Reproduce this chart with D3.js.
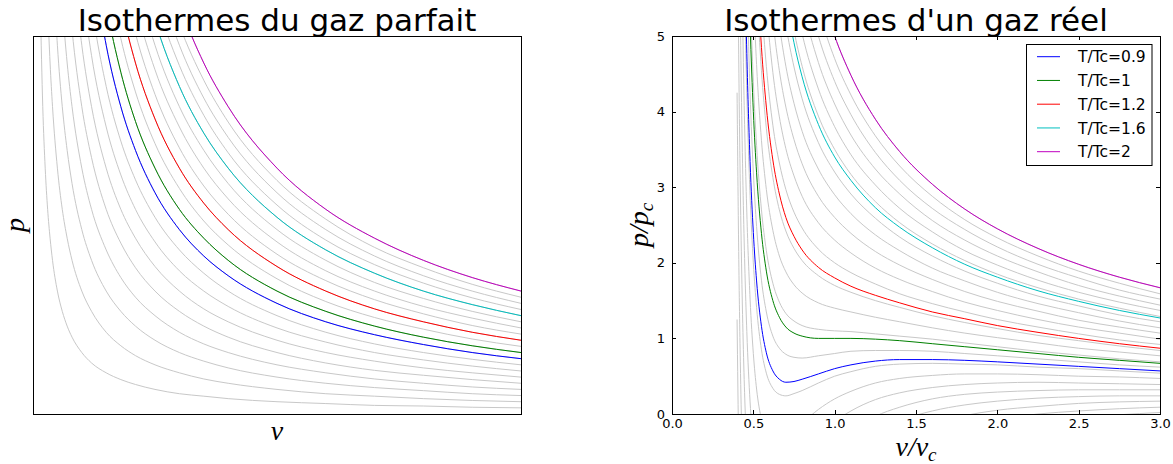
<!DOCTYPE html>
<html>
<head>
<meta charset="utf-8">
<script src="https://cdn.jsdelivr.net/npm/d3@7"></script>
<style>
  body { margin: 0; background: #fff; }
  svg { display: block; font-family: "DejaVu Sans", sans-serif; }
  .math { font-family: "Liberation Serif", serif; font-style: italic; }
</style>
</head>
<body>
<svg id="chart" width="1173" height="464"></svg>
<script>
// ---- left panel: ideal gas, p read at each v of the grid, one row per isotherm ----
const idealV = [0.015, 0.02, 0.025, 0.03, 0.035, 0.04, 0.05, 0.06, 0.07, 0.08, 0.1, 0.12, 0.15,
                0.18, 0.21, 0.25, 0.3, 0.35, 0.4, 0.5, 0.6, 0.7, 0.8, 0.9, 1.0];
const idealT = [0.1, 0.2, 0.3, 0.4, 0.5, 0.6, 0.7, 0.8, 0.9, 1, 1.1, 1.2, 1.3, 1.4, 1.5, 1.6, 1.7, 1.8, 1.9, 2];
const idealP = [
  [6.67, 5, 4, 3.33, 2.86, 2.5, 2, 1.67, 1.43, 1.25, 1, 0.83, 0.67, 0.56, 0.48, 0.4, 0.33, 0.29, 0.25, 0.2, 0.17, 0.14, 0.13, 0.11, 0.1],
  [null, 10, 8, 6.67, 5.71, 5, 4, 3.33, 2.86, 2.5, 2, 1.67, 1.33, 1.11, 0.95, 0.8, 0.67, 0.57, 0.5, 0.4, 0.33, 0.29, 0.25, 0.22, 0.2],
  [null, null, null, 10, 8.57, 7.5, 6, 5, 4.29, 3.75, 3, 2.5, 2, 1.67, 1.43, 1.2, 1, 0.86, 0.75, 0.6, 0.5, 0.43, 0.38, 0.33, 0.3],
  [null, null, null, null, null, 10, 8, 6.67, 5.71, 5, 4, 3.33, 2.67, 2.22, 1.9, 1.6, 1.33, 1.14, 1, 0.8, 0.67, 0.57, 0.5, 0.44, 0.4],
  [null, null, null, null, null, null, 10, 8.33, 7.14, 6.25, 5, 4.17, 3.33, 2.78, 2.38, 2, 1.67, 1.43, 1.25, 1, 0.83, 0.71, 0.63, 0.56, 0.5],
  [null, null, null, null, null, null, null, 10, 8.57, 7.5, 6, 5, 4, 3.33, 2.86, 2.4, 2, 1.71, 1.5, 1.2, 1, 0.86, 0.75, 0.67, 0.6],
  [null, null, null, null, null, null, null, null, 10, 8.75, 7, 5.83, 4.67, 3.89, 3.33, 2.8, 2.33, 2, 1.75, 1.4, 1.17, 1, 0.88, 0.78, 0.7],
  [null, null, null, null, null, null, null, null, null, 10, 8, 6.67, 5.33, 4.44, 3.81, 3.2, 2.67, 2.29, 2, 1.6, 1.33, 1.14, 1, 0.89, 0.8],
  [null, null, null, null, null, null, null, null, null, null, 9, 7.5, 6, 5, 4.29, 3.6, 3, 2.57, 2.25, 1.8, 1.5, 1.29, 1.13, 1, 0.9],
  [null, null, null, null, null, null, null, null, null, null, 10, 8.33, 6.67, 5.56, 4.76, 4, 3.33, 2.86, 2.5, 2, 1.67, 1.43, 1.25, 1.11, 1],
  [null, null, null, null, null, null, null, null, null, null, null, 9.17, 7.33, 6.11, 5.24, 4.4, 3.67, 3.14, 2.75, 2.2, 1.83, 1.57, 1.38, 1.22, 1.1],
  [null, null, null, null, null, null, null, null, null, null, null, 10, 8, 6.67, 5.71, 4.8, 4, 3.43, 3, 2.4, 2, 1.71, 1.5, 1.33, 1.2],
  [null, null, null, null, null, null, null, null, null, null, null, null, 8.67, 7.22, 6.19, 5.2, 4.33, 3.71, 3.25, 2.6, 2.17, 1.86, 1.63, 1.44, 1.3],
  [null, null, null, null, null, null, null, null, null, null, null, null, 9.33, 7.78, 6.67, 5.6, 4.67, 4, 3.5, 2.8, 2.33, 2, 1.75, 1.56, 1.4],
  [null, null, null, null, null, null, null, null, null, null, null, null, 10, 8.33, 7.14, 6, 5, 4.29, 3.75, 3, 2.5, 2.14, 1.88, 1.67, 1.5],
  [null, null, null, null, null, null, null, null, null, null, null, null, null, 8.89, 7.62, 6.4, 5.33, 4.57, 4, 3.2, 2.67, 2.29, 2, 1.78, 1.6],
  [null, null, null, null, null, null, null, null, null, null, null, null, null, 9.44, 8.1, 6.8, 5.67, 4.86, 4.25, 3.4, 2.83, 2.43, 2.13, 1.89, 1.7],
  [null, null, null, null, null, null, null, null, null, null, null, null, null, 10, 8.57, 7.2, 6, 5.14, 4.5, 3.6, 3, 2.57, 2.25, 2, 1.8],
  [null, null, null, null, null, null, null, null, null, null, null, null, null, null, 9.05, 7.6, 6.33, 5.43, 4.75, 3.8, 3.17, 2.71, 2.38, 2.11, 1.9],
  [null, null, null, null, null, null, null, null, null, null, null, null, null, null, 9.52, 8, 6.67, 5.71, 5, 4, 3.33, 2.86, 2.5, 2.22, 2]
];

// ---- right panel: real gas (reduced units) ----
const realV = [0.40, 0.41, 0.42, 0.43, 0.44, 0.45, 0.46, 0.48, 0.50, 0.52, 0.55, 0.58, 0.62, 0.66, 0.70,
               0.75, 0.80, 0.90, 1.00, 1.10, 1.25, 1.40, 1.60, 1.80, 2.00, 2.25, 2.50, 2.75, 3.00];
const realGrayT = [0.35, 0.425, 0.5, 0.575, 0.65, 0.725, 0.8, 0.875, 0.95, 1.025, 1.1, 1.175, 1.25,
                   1.325, 1.4, 1.475, 1.55, 1.625, 1.7, 1.775, 1.85, 1.925, 2];
// one row per v of realV, one column per gray isotherm
const realGrayTable = [
  [-4.75, -1.75, 1.25, 4.25, 7.25, 10.25, 13.25, 16.25, 19.25, 22.25, 25.25, 28.25, 31.25, 34.25, 37.25, 40.25, 43.25, 46.25, 49.25, 52.25, 55.25, 58.25, 61.25],
  [-5.67, -3.06, -0.46, 2.15, 4.76, 7.37, 9.98, 12.59, 15.2, 17.81, 20.41, 23.02, 25.63, 28.24, 30.85, 33.46, 36.07, 38.68, 41.28, 43.89, 46.5, 49.11, 51.72],
  [-6.24, -3.93, -1.62, 0.69, 2.99, 5.3, 7.61, 9.92, 12.22, 14.53, 16.84, 19.15, 21.45, 23.76, 26.07, 28.38, 30.68, 32.99, 35.3, 37.61, 39.92, 42.22, 44.53],
  [-6.57, -4.5, -2.43, -0.36, 1.71, 3.78, 5.84, 7.91, 9.98, 12.05, 14.12, 16.19, 18.26, 20.33, 22.4, 24.47, 26.53, 28.6, 30.67, 32.74, 34.81, 36.88, 38.95],
  [-6.75, -4.87, -3.0, -1.12, 0.75, 2.63, 4.5, 6.38, 8.25, 10.13, 12.0, 13.88, 15.75, 17.63, 19.5, 21.38, 23.25, 25.13, 27.0, 28.88, 30.75, 32.63, 34.5],
  [-6.81, -5.1, -3.39, -1.67, 0.04, 1.76, 3.47, 5.19, 6.9, 8.61, 10.33, 12.04, 13.76, 15.47, 17.19, 18.9, 20.61, 22.33, 24.04, 25.76, 27.47, 29.19, 30.9],
  [-6.81, -5.23, -3.65, -2.07, -0.49, 1.09, 2.66, 4.24, 5.82, 7.4, 8.98, 10.56, 12.14, 13.72, 15.3, 16.87, 18.45, 20.03, 21.61, 23.19, 24.77, 26.35, 27.93],
  [-6.66, -5.29, -3.93, -2.57, -1.2, 0.16, 1.52, 2.89, 4.25, 5.62, 6.98, 8.34, 9.71, 11.07, 12.43, 13.8, 15.16, 16.52, 17.89, 19.25, 20.62, 21.98, 23.34],
  [-6.4, -5.2, -4.0, -2.8, -1.6, -0.4, 0.8, 2.0, 3.2, 4.4, 5.6, 6.8, 8.0, 9.2, 10.4, 11.6, 12.8, 14.0, 15.2, 16.4, 17.6, 18.8, 20.0],
  [-6.09, -5.02, -3.95, -2.88, -1.81, -0.74, 0.33, 1.41, 2.48, 3.55, 4.62, 5.69, 6.76, 7.83, 8.91, 9.98, 11.05, 12.12, 13.19, 14.26, 15.33, 16.41, 17.48],
  [-5.61, -4.69, -3.76, -2.84, -1.92, -0.99, -0.07, 0.85, 1.77, 2.7, 3.62, 4.54, 5.47, 6.39, 7.31, 8.24, 9.16, 10.08, 11.01, 11.93, 12.85, 13.77, 14.7],
  [-5.13, -4.32, -3.51, -2.7, -1.89, -1.08, -0.27, 0.54, 1.35, 2.16, 2.97, 3.78, 4.6, 5.41, 6.22, 7.03, 7.84, 8.65, 9.46, 10.27, 11.08, 11.89, 12.7],
  [-4.55, -3.85, -3.15, -2.46, -1.76, -1.06, -0.36, 0.34, 1.03, 1.73, 2.43, 3.13, 3.82, 4.52, 5.22, 5.92, 6.61, 7.31, 8.01, 8.71, 9.4, 10.1, 10.8],
  [-4.03, -3.42, -2.81, -2.19, -1.58, -0.97, -0.36, 0.26, 0.87, 1.48, 2.09, 2.7, 3.32, 3.93, 4.54, 5.15, 5.77, 6.38, 6.99, 7.6, 8.21, 8.83, 9.44],
  [-3.58, -3.03, -2.49, -1.94, -1.4, -0.85, -0.3, 0.24, 0.79, 1.33, 1.88, 2.42, 2.97, 3.51, 4.06, 4.6, 5.15, 5.7, 6.24, 6.79, 7.33, 7.88, 8.42],
  [-3.09, -2.61, -2.13, -1.65, -1.17, -0.69, -0.21, 0.27, 0.75, 1.23, 1.71, 2.19, 2.67, 3.15, 3.63, 4.11, 4.59, 5.07, 5.55, 6.03, 6.51, 6.99, 7.47],
  [-2.69, -2.26, -1.83, -1.4, -0.97, -0.54, -0.12, 0.31, 0.74, 1.17, 1.6, 2.03, 2.46, 2.88, 3.31, 3.74, 4.17, 4.6, 5.03, 5.46, 5.88, 6.31, 6.74],
  [-2.06, -1.7, -1.35, -1.0, -0.64, -0.29, 0.06, 0.41, 0.77, 1.12, 1.47, 1.83, 2.18, 2.53, 2.88, 3.24, 3.59, 3.94, 4.3, 4.65, 5.0, 5.36, 5.71],
  [-1.6, -1.3, -1.0, -0.7, -0.4, -0.1, 0.2, 0.5, 0.8, 1.1, 1.4, 1.7, 2.0, 2.3, 2.6, 2.9, 3.2, 3.5, 3.8, 4.1, 4.4, 4.7, 5.0],
  [-1.26, -1.0, -0.74, -0.48, -0.22, 0.04, 0.3, 0.56, 0.83, 1.09, 1.35, 1.61, 1.87, 2.13, 2.39, 2.65, 2.91, 3.17, 3.43, 3.69, 3.96, 4.22, 4.48],
  [-0.9, -0.68, -0.47, -0.25, -0.03, 0.19, 0.41, 0.63, 0.84, 1.06, 1.28, 1.5, 1.72, 1.93, 2.15, 2.37, 2.59, 2.81, 3.03, 3.24, 3.46, 3.68, 3.9],
  [-0.66, -0.47, -0.28, -0.09, 0.09, 0.28, 0.47, 0.66, 0.84, 1.03, 1.22, 1.41, 1.59, 1.78, 1.97, 2.16, 2.34, 2.53, 2.72, 2.91, 3.09, 3.28, 3.47],
  [-0.44, -0.28, -0.12, 0.04, 0.2, 0.35, 0.51, 0.67, 0.83, 0.99, 1.14, 1.3, 1.46, 1.62, 1.78, 1.93, 2.09, 2.25, 2.41, 2.56, 2.72, 2.88, 3.04],
  [-0.29, -0.15, -0.02, 0.12, 0.26, 0.39, 0.53, 0.66, 0.8, 0.94, 1.07, 1.21, 1.35, 1.48, 1.62, 1.76, 1.89, 2.03, 2.16, 2.3, 2.44, 2.57, 2.71],
  [-0.19, -0.07, 0.05, 0.17, 0.29, 0.41, 0.53, 0.65, 0.77, 0.89, 1.01, 1.13, 1.25, 1.37, 1.49, 1.61, 1.73, 1.85, 1.97, 2.09, 2.21, 2.33, 2.45],
  [-0.11, 0.0, 0.1, 0.21, 0.31, 0.42, 0.52, 0.62, 0.73, 0.83, 0.94, 1.04, 1.15, 1.25, 1.36, 1.46, 1.56, 1.67, 1.77, 1.88, 1.98, 2.09, 2.19],
  [-0.05, 0.04, 0.14, 0.23, 0.32, 0.41, 0.5, 0.6, 0.69, 0.78, 0.87, 0.97, 1.06, 1.15, 1.24, 1.34, 1.43, 1.52, 1.61, 1.7, 1.8, 1.89, 1.98],
  [-0.01, 0.07, 0.16, 0.24, 0.32, 0.4, 0.49, 0.57, 0.65, 0.73, 0.82, 0.9, 0.98, 1.07, 1.15, 1.23, 1.31, 1.4, 1.48, 1.56, 1.64, 1.73, 1.81],
  [0.02, 0.09, 0.17, 0.24, 0.32, 0.39, 0.47, 0.54, 0.62, 0.69, 0.77, 0.84, 0.92, 0.99, 1.07, 1.14, 1.22, 1.29, 1.37, 1.44, 1.52, 1.59, 1.67]
];

// highlighted isotherms (same on both panels), one row per T along realV
const colorT = [0.9, 1, 1.2, 1.6, 2];
const realColorP = [
  [17.25, 13.46, 10.69, 8.6, 7.0, 5.76, 4.77, 3.34, 2.4, 1.76, 1.16, 0.81, 0.57, 0.46, 0.42, 0.43, 0.46, 0.53, 0.6, 0.65, 0.7, 0.72, 0.72, 0.71, 0.69, 0.66, 0.63, 0.6, 0.57],
  [21.25, 16.94, 13.76, 11.36, 9.5, 8.04, 6.87, 5.16, 4.0, 3.19, 2.39, 1.89, 1.5, 1.28, 1.15, 1.07, 1.03, 1.0, 1.0, 1.0, 0.99, 0.97, 0.93, 0.89, 0.85, 0.8, 0.75, 0.71, 0.67],
  [29.25, 23.89, 19.92, 16.88, 14.5, 12.61, 11.09, 8.8, 7.2, 6.05, 4.85, 4.06, 3.36, 2.91, 2.6, 2.35, 2.17, 1.94, 1.8, 1.69, 1.57, 1.47, 1.35, 1.26, 1.17, 1.08, 1.0, 0.93, 0.87],
  [45.25, 37.81, 32.22, 27.91, 24.5, 21.76, 19.51, 16.07, 13.6, 11.76, 9.78, 8.38, 7.08, 6.17, 5.51, 4.91, 4.46, 3.83, 3.4, 3.09, 2.73, 2.47, 2.2, 1.98, 1.81, 1.63, 1.49, 1.37, 1.27],
  [61.25, 51.72, 44.53, 38.95, 34.5, 30.9, 27.93, 23.34, 20.0, 17.48, 14.7, 12.7, 10.8, 9.44, 8.42, 7.47, 6.74, 5.71, 5.0, 4.48, 3.9, 3.47, 3.04, 2.71, 2.45, 2.19, 1.98, 1.81, 1.67]
];
const colorList = ["#0000ff", "#008000", "#ff0000", "#00bfbf", "#bf00bf"];
const legendLabels = ["T/Tc=0.9", "T/Tc=1", "T/Tc=1.2", "T/Tc=1.6", "T/Tc=2"];
const xTicks = [0, 0.5, 1, 1.5, 2, 2.5, 3];
const yTicks = [0, 1, 2, 3, 4, 5];

const grayColor = "#c8c8c8";
const svg = d3.select("#chart");

const boxL = { left: 33, right: 521, top: 36, bottom: 414 };
const boxR = { left: 672, right: 1160, top: 36, bottom: 414 };

const xL = d3.scaleLinear().domain([0, 1]).range([boxL.left, boxL.right]);
const yL = d3.scaleLinear().domain([0, 6.15]).range([boxL.bottom, boxL.top]);
const xR = d3.scaleLinear().domain([0, 3]).range([boxR.left, boxR.right]);
const yR = d3.scaleLinear().domain([0, 5]).range([boxR.bottom, boxR.top]);

const defs = svg.append("defs");
[["clipL", boxL], ["clipR", boxR]].forEach(([id, b]) => {
  defs.append("clipPath").attr("id", id).append("rect")
    .attr("x", b.left).attr("y", b.top)
    .attr("width", b.right - b.left).attr("height", b.bottom - b.top);
});

const lineL = d3.line()
  .defined(d => d[1] !== null)
  .x(d => xL(d[0])).y(d => yL(d[1]))
  .curve(d3.curveMonotoneX);
const lineR = d3.line()
  .x(d => xR(d[0])).y(d => yR(d[1]))
  .curve(d3.curveMonotoneX);

// left curves
const gL = svg.append("g").attr("clip-path", "url(#clipL)");
idealP.forEach(row => {
  gL.append("path")
    .datum(idealV.map((v, j) => [v, row[j]]))
    .attr("d", lineL)
    .attr("fill", "none").attr("stroke", grayColor).attr("stroke-width", 1);
});
colorT.forEach((t, c) => {
  const row = idealP[idealT.indexOf(t)];
  gL.append("path")
    .datum(idealV.map((v, j) => [v, row[j]]))
    .attr("d", lineL)
    .attr("fill", "none").attr("stroke", colorList[c]).attr("stroke-width", 1);
});

// right curves
const gR = svg.append("g").attr("clip-path", "url(#clipR)");
d3.transpose(realGrayTable).forEach(col => {
  gR.append("path")
    .datum(realV.map((v, j) => [v, col[j]]))
    .attr("d", lineR)
    .attr("fill", "none").attr("stroke", grayColor).attr("stroke-width", 1);
});
realColorP.forEach((row, c) => {
  gR.append("path")
    .datum(realV.map((v, j) => [v, row[j]]))
    .attr("d", lineR)
    .attr("fill", "none").attr("stroke", colorList[c]).attr("stroke-width", 1);
});

// frames
[boxL, boxR].forEach(b => {
  svg.append("rect")
    .attr("x", b.left).attr("y", b.top)
    .attr("width", b.right - b.left).attr("height", b.bottom - b.top)
    .attr("fill", "none").attr("stroke", "#000").attr("stroke-width", 1)
    .attr("shape-rendering", "crispEdges");
});

// ticks (inside, all four sides) on the right panel
function styleAxis(g) {
  g.select(".domain").remove();
  g.selectAll("line").attr("stroke", "#000").attr("shape-rendering", "crispEdges");
  g.selectAll("text").attr("font-size", 13).attr("font-family", "DejaVu Sans").attr("fill", "#000");
}
svg.append("g").attr("transform", `translate(0,${boxR.bottom})`)
  .call(d3.axisBottom(xR).tickValues(xTicks).tickSizeInner(-4).tickSizeOuter(0).tickPadding(5).tickFormat(d3.format(".1f")))
  .call(styleAxis);
svg.append("g").attr("transform", `translate(0,${boxR.top})`)
  .call(d3.axisTop(xR).tickValues(xTicks).tickSizeInner(-4).tickSizeOuter(0).tickFormat(""))
  .call(styleAxis);
svg.append("g").attr("transform", `translate(${boxR.left},0)`)
  .call(d3.axisLeft(yR).tickValues(yTicks).tickSizeInner(-4).tickSizeOuter(0).tickPadding(7).tickFormat(d3.format("d")))
  .call(styleAxis);
svg.append("g").attr("transform", `translate(${boxR.right},0)`)
  .call(d3.axisRight(yR).tickValues(yTicks).tickSizeInner(-4).tickSizeOuter(0).tickFormat(""))
  .call(styleAxis);

// titles
svg.append("text").attr("x", (boxL.left + boxL.right) / 2).attr("y", 31)
  .attr("text-anchor", "middle").attr("font-size", 31).text("Isothermes du gaz parfait");
svg.append("text").attr("x", (boxR.left + boxR.right) / 2).attr("y", 31)
  .attr("text-anchor", "middle").attr("font-size", 31).text("Isothermes d'un gaz réel");

// axis labels
svg.append("text").attr("class", "math").attr("font-size", 28)
  .attr("x", (boxL.left + boxL.right) / 2).attr("y", 440).attr("text-anchor", "middle").text("v");
svg.append("text").attr("class", "math").attr("font-size", 28)
  .attr("transform", "translate(24,225) rotate(-90)").attr("text-anchor", "middle").text("p");

const xlab = svg.append("text").attr("class", "math").attr("font-size", 28)
  .attr("x", (boxR.left + boxR.right) / 2).attr("y", 456).attr("text-anchor", "middle");
xlab.append("tspan").text("v/v");
xlab.append("tspan").attr("font-size", 19).attr("dy", 5).text("c");

const ylab = svg.append("text").attr("class", "math").attr("font-size", 28)
  .attr("transform", "translate(648,225) rotate(-90)").attr("text-anchor", "middle");
ylab.append("tspan").text("p/p");
ylab.append("tspan").attr("font-size", 19).attr("dy", 5).text("c");

// legend
const leg = svg.append("g");
leg.append("rect").attr("x", 1026.5).attr("y", 44.5).attr("width", 125.5).attr("height", 121)
  .attr("fill", "#fff").attr("stroke", "#000").attr("stroke-width", 1);
legendLabels.forEach((lab, i) => {
  const y = 56.7 + i * 23.75;
  leg.append("line").attr("x1", 1037).attr("x2", 1060).attr("y1", y).attr("y2", y)
    .attr("stroke", colorList[i]).attr("stroke-width", 1);
  leg.append("text").attr("x", 1078).attr("y", y).attr("dy", "0.36em")
    .attr("font-size", 15.5).text(lab);
});
</script>
</body>
</html>
